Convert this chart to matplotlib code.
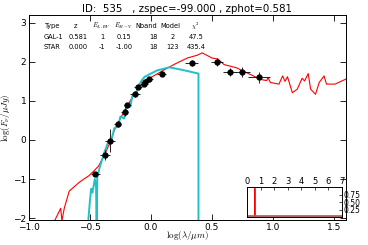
#!/usr/bin/env python
from matplotlib import pyplot as plt

plt.rcParams['mathtext.fontset'] = 'cm'
plt.rcParams['font.family'] = 'DejaVu Sans'

# photometry: log(lambda/um), log(F_nu/uJy), errors
lam = [-0.455, -0.377, -0.336, -0.273, -0.216, -0.194, -0.131, -0.107, -0.057,
       -0.049, -0.016, 0.087, 0.333, 0.544, 0.645, 0.750, 0.890]
flux = [-0.88, -0.39, -0.02, 0.40, 0.72, 0.89, 1.18, 1.36, 1.44,
        1.49, 1.57, 1.70, 1.97, 1.99, 1.75, 1.74, 1.61]
xerr = [0.04, 0.04, 0.04, 0.03, 0.03, 0.03, 0.04, 0.03, 0.03,
        0.03, 0.03, 0.04, 0.05, 0.05, 0.05, 0.06, 0.09]
yerr = [0.04, 0.12, 0.30, 0.08, 0.10, 0.06, 0.08, 0.05, 0.06,
        0.06, 0.05, 0.06, 0.08, 0.10, 0.10, 0.12, 0.14]

# best-fit galaxy template
gal_x = [-0.84, -0.79, -0.74, -0.73, -0.71, -0.67, -0.63, -0.59, -0.55, -0.51,
         -0.47, -0.43, -0.385, -0.33, -0.30, -0.25, -0.20, -0.15, -0.10, -0.05,
         0.0, 0.10, 0.20, 0.30, 0.38, 0.42, 0.50, 0.55, 0.60, 0.70, 0.80,
         0.90, 0.95, 0.96, 0.98, 1.05, 1.08, 1.10, 1.12, 1.16, 1.20, 1.24,
         1.26, 1.29, 1.31, 1.35, 1.38, 1.42, 1.44, 1.51, 1.60]
gal_y = [-2.3, -2.07, -1.75, -2.07, -1.74, -1.31, -1.20, -1.09, -1.00, -0.92,
         -0.80, -0.67, -0.41, -0.03, 0.25, 0.55, 0.85, 1.10, 1.33, 1.50,
         1.60, 1.78, 1.95, 2.10, 2.17, 2.23, 2.10, 2.07, 1.93, 1.85, 1.70,
         1.55, 1.52, 1.60, 1.47, 1.43, 1.64, 1.50, 1.62, 1.21, 1.30, 1.58,
         1.51, 1.70, 1.30, 1.17, 1.47, 1.64, 1.43, 1.43, 1.56]

# best-fit star template
star_x = [-0.52, -0.50, -0.49, -0.48, -0.46, -0.45, -0.445, -0.44, -0.42, -0.40,
          -0.38, -0.35, -0.32, -0.30, -0.27, -0.25, -0.22, -0.20, -0.17, -0.15,
          -0.12, -0.10, -0.07, -0.05, 0.0, 0.05, 0.10, 0.15, 0.25, 0.39, 0.39]
star_y = [-2.3, -1.55, -1.25, -1.35, -1.00, -1.20, -2.3, -0.95, -0.70, -0.50,
          -0.30, -0.05, 0.05, 0.30, 0.35, 0.60, 0.55, 0.90, 0.85, 1.15,
          1.20, 1.40, 1.55, 1.62, 1.70, 1.78, 1.82, 1.86, 1.80, 1.70, -2.3]

# redshift PDF
pdf_z = [0.0, 0.57, 0.58, 0.59, 7.0]
pdf_p = [0.0, 0.0, 0.95, 0.0, 0.0]

fig = plt.figure(figsize=(3.68, 2.45), dpi=100)
ax = fig.add_axes([29/368, 1 - 220/245, 317/368, 205/245])

ax.plot(gal_x, gal_y, color='red', lw=0.8)
ax.plot(star_x, star_y, color='#20c0c8', lw=1.4)
ax.errorbar(lam, flux, xerr=xerr, yerr=yerr, fmt='o', color='black',
            ms=3.5, elinewidth=0.6, capsize=0, zorder=5)

ax.set_xlim(-1.0, 1.6)
ax.set_ylim(-2.05, 3.2)
ax.set_xticks([-1.0, -0.5, 0.0, 0.5, 1.0, 1.5])
ax.set_xticklabels(['\u22121.0', '\u22120.5', '0.0', '0.5', '1.0', '1.5'])
ax.set_yticks([-2, -1, 0, 1, 2, 3])
ax.tick_params(direction='in', top=True, right=True, labelsize=6.5,
               length=4, width=0.6, pad=2)
for s in ax.spines.values():
    s.set_linewidth(0.7)
ax.set_xlabel(r'$\log(\lambda/\mu m)$', fontsize=6.5, labelpad=-2)
ax.set_ylabel(r'$\log(F_\nu/\mu Jy)$', fontsize=6.5, labelpad=1)
ax.set_title('ID:  535   , zspec=-99.000 , zphot=0.581', fontsize=7.4, pad=2)

# fit table
cols = [45, 75, 101, 124, 146, 170, 195]
heads = ['Type', 'z', r'$E_{LAW}$', r'$E_{B-V}$', 'Nband', 'Model', r'$\chi^2$']
row1 = ['GAL-1', '0.581', '1', '0.15', '18', '2', '47.5']
row2 = ['STAR', '0.000', '-1', '-1.00', '18', '123', '435.4']
cx = [44, 78, 102, 124, 153, 173, 196]
for i in range(7):
    fig.text(cols[i] / 368, 1 - 26 / 245, heads[i], fontsize=4.8,
             ha='left' if i == 0 else 'center', va='center')
    fig.text((44 if i == 0 else cx[i]) / 368, 1 - 37 / 245, row1[i],
             fontsize=4.8, ha='left' if i == 0 else 'center', va='center')
    fig.text((44 if i == 0 else cx[i]) / 368, 1 - 47 / 245, row2[i],
             fontsize=4.8, ha='left' if i == 0 else 'center', va='center')

# PDF inset
ins = fig.add_axes([247/368, 1 - 217/245, 95/368, 30/245])
ins.plot(pdf_z, pdf_p, color='red', lw=0.8)
ins.axhline(0.02, color='#a06060', lw=1.2)
ins.set_xlim(0, 7)
ins.set_ylim(0, 1.0)
ins.set_xticks(range(8))
ins.set_yticks([0.25, 0.5, 0.75])
ins.set_yticklabels(['0.25', '0.50', '0.75'])
ins.xaxis.tick_top()
ins.yaxis.tick_right()
ins.tick_params(direction='in', labelsize=6, length=2.5, width=0.5, pad=1)
ins.tick_params(axis='y', labelsize=5.5, pad=1)
for s in ins.spines.values():
    s.set_linewidth(0.7)

fig.savefig('out.png', dpi=100)
